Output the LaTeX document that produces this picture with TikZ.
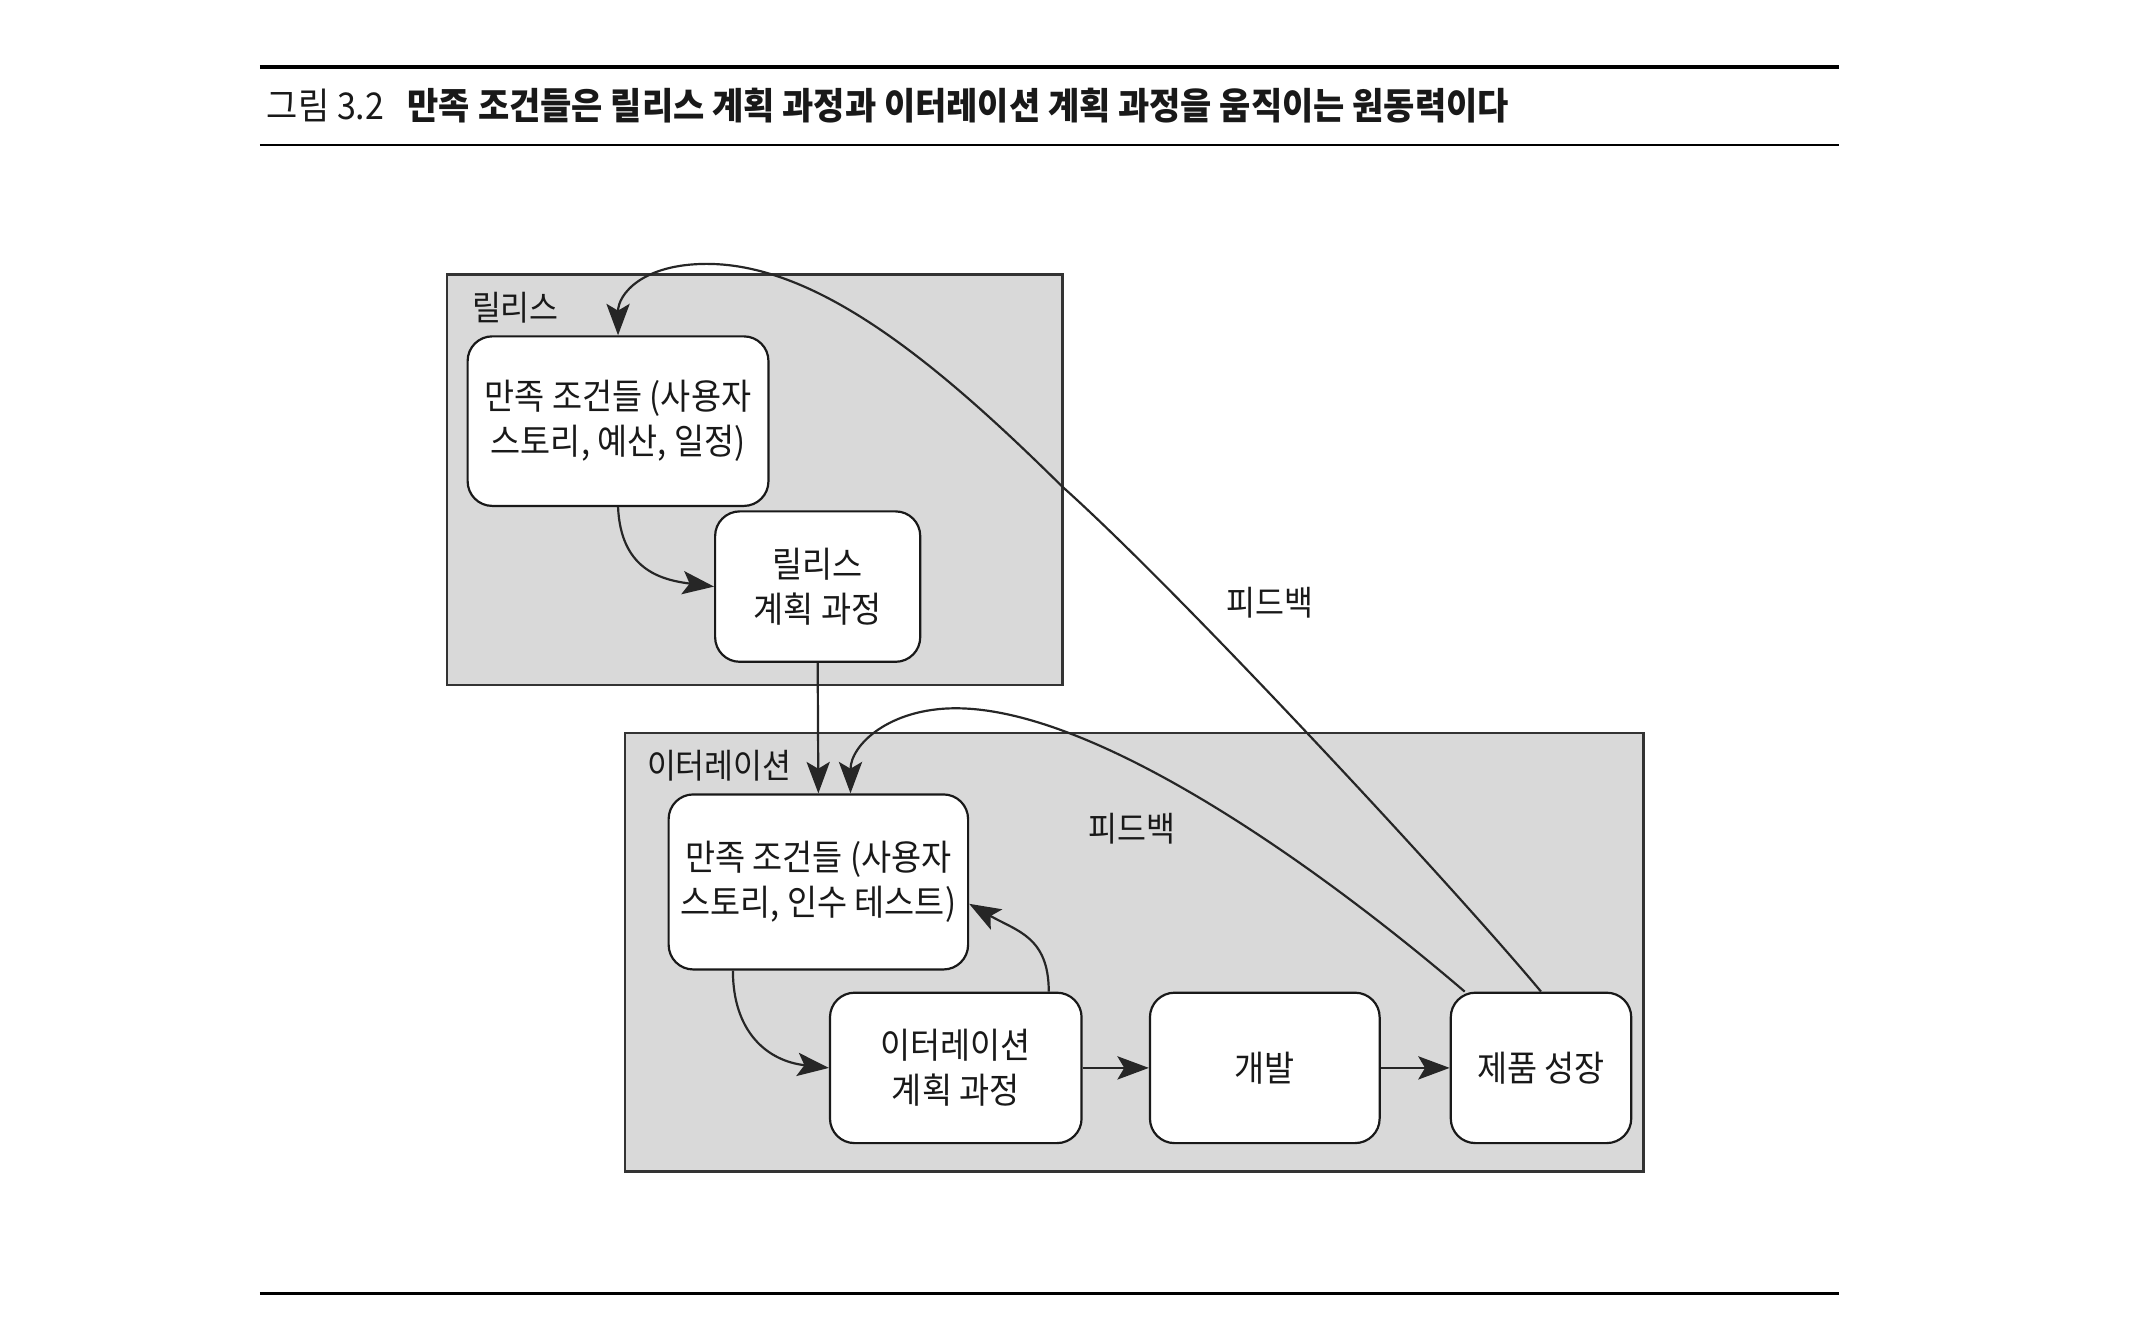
\documentclass[tikz,border=0pt]{standalone}
\usepackage{fontspec}
\setmainfont{Noto Sans CJK KR}[FakeStretch=0.92]
\usetikzlibrary{arrows.meta,calc}
\begin{document}
\begin{tikzpicture}[x=1pt,y=-1pt,
  every node/.style={inner sep=0pt, text=black!90},
  grp/.style={draw=black!80, line width=2pt, fill=black!15},
  proc/.style={draw=black!90, line width=1.6pt, fill=white, rounded corners=18pt, align=center, font=\fontsize{26}{33}\selectfont},
  lbl/.style={font=\fontsize{25}{30}\selectfont},
  conn/.style={line width=1.6pt, draw=black!85, -{Stealth[length=23pt,width=17pt,inset=5pt]}},
  hrule/.style={line width=#1, draw=black}]
\useasboundingbox (0,0) rectangle (1568,981);
% rules and caption
\draw[hrule=3pt] (190,49) -- (1345,49);
\draw[hrule=1.2pt] (190,106) -- (1345,106);
\draw[hrule=1.5pt] (190,946) -- (1345,946);
\node[anchor=west, font=\fontsize{27}{30}\selectfont] (fig) at (195,77) {그림 3.2};
\node[anchor=west, font=\fontsize{27}{30}\selectfont\bfseries] (title) at (298,77) {만족 조건들은 릴리스 계획 과정과 이터레이션 계획 과정을 움직이는 원동력이다};
% group boxes
\node[grp, minimum width=450pt, minimum height=300pt] (rel) at (552,351) {};
\node[grp, minimum width=745pt, minimum height=321pt] (itr) at (829.5,696.5) {};
\node[lbl, anchor=west] (rellbl) at (345,225) {릴리스};
\node[lbl, anchor=west] (itrlbl) at (473,560) {이터레이션};
% process nodes
\node[proc, minimum width=220pt, minimum height=124pt] (A) at (452,308) {만족 조건들 (사용자\\스토리, 예산, 일정)};
\node[proc, minimum width=150pt, minimum height=110pt] (B) at (598,429) {릴리스\\계획 과정};
\node[proc, minimum width=219pt, minimum height=128pt] (C) at (598.5,645) {만족 조건들 (사용자\\스토리, 인수 테스트)};
\node[proc, minimum width=184pt, minimum height=110pt] (D) at (699,781) {이터레이션\\계획 과정};
\node[proc, minimum width=168pt, minimum height=110pt] (E) at (925,781) {개발};
\node[proc, minimum width=132pt, minimum height=110pt] (F) at (1127,781) {제품 성장};
% feedback labels
\node[lbl] (fb1) at (929,441) {피드백};
\node[lbl] (fb2) at (828,606) {피드백};
% connectors
\draw[conn] (A.south) .. controls +(2,45) and +(-40,-5) .. (B.west);
\draw[conn] (B.south) -- (C.north);
\draw[conn] ([xshift=-62.5pt]C.south) .. controls +(0,45) and +(-45,-5) .. (D.west);
\draw[conn] ([xshift=68pt]D.north) .. controls +(0,-40) and +(35,20) .. ($(C.east)+(0,16)$);
\draw[conn] (D.east) -- (E.west);
\draw[conn] (E.east) -- (F.west);
\draw[conn] (F.north) .. controls (1060,645) and (860,430) .. (777,356) .. controls (690,270) and (600,193) .. (517,193) .. controls (470,193) and (452,215) .. (A.north);
\draw[conn] ([xshift=11pt]F.north west) .. controls (960,630) and (800,518) .. (699,518) .. controls (650,518) and (622,545) .. ([xshift=23.5pt]C.north);
\end{tikzpicture}
\end{document}
